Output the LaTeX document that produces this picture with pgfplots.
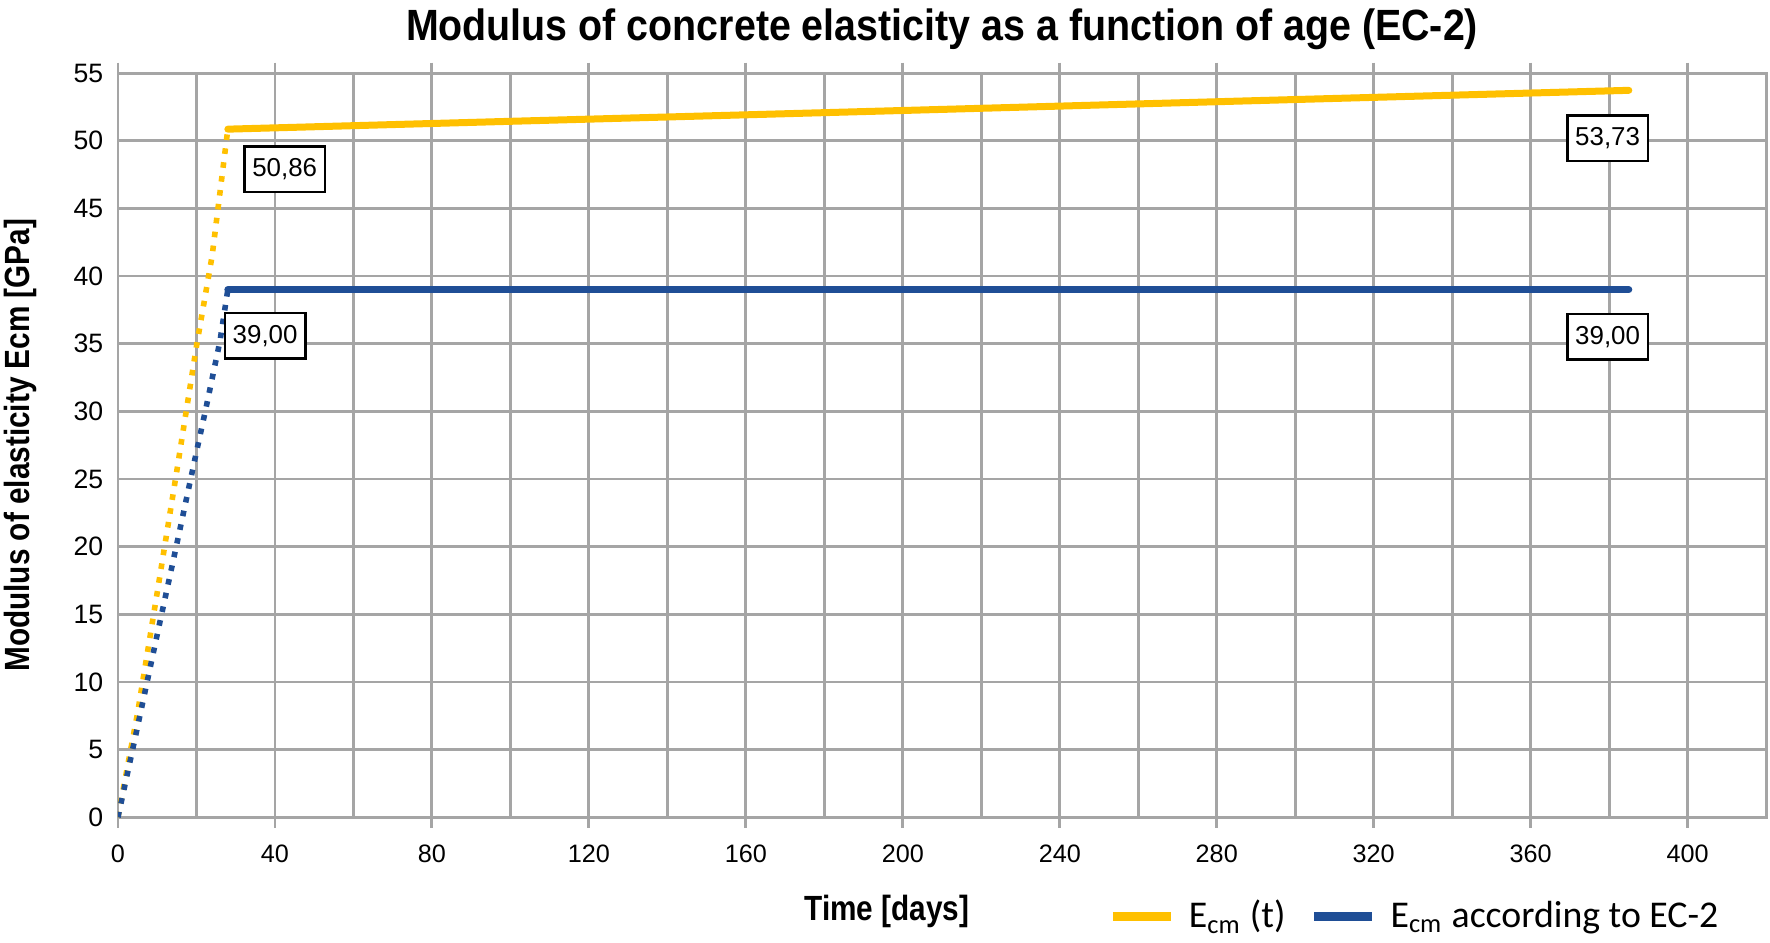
\documentclass[border=0pt]{standalone}
\usepackage{pgfplots}
\pgfplotsset{compat=1.18}
\usepackage{fontspec}
\setmainfont{Liberation Sans}
\newfontfamily\titlefont[FakeStretch=0.9]{Liberation Sans}
\newfontfamily\labelfont[FakeStretch=0.85]{Liberation Sans}
\newfontfamily\legfont{Carlito}
\definecolor{ecmyel}{RGB}{255,192,0}
\definecolor{ecmblue}{RGB}{31,78,150}
\definecolor{gridgray}{RGB}{165,165,165}
\begin{document}
\begin{tikzpicture}
  \useasboundingbox (-33.7pt,-35.7pt) rectangle (472.0pt,233.5pt);
  \begin{axis}[
      scale only axis,
      width=470.9pt, height=212.6pt,
      xmin=0, xmax=420, ymin=0, ymax=55,
      xtick={0,40,...,400},
      minor xtick={20,60,...,420},
      ytick={0,5,...,55},
      grid=both,
      major grid style={gridgray, line width=0.8pt},
      minor grid style={gridgray, line width=0.8pt},
      axis line style={gridgray, line width=0.8pt},
      tick align=outside,
      major tick length=3pt,
      minor tick length=0pt,
      xtick style={gridgray, line width=0.8pt},
      ytick style={draw=none},
      tick label style={/pgf/number format/assume math mode=true},
      xticklabel style={yshift=-1.4pt, font=\fontsize{7.2}{8}\selectfont},
      yticklabel style={xshift=2.3pt, font=\fontsize{7.6}{8}\selectfont},
      title={Modulus of concrete elasticity as a function of age (EC-2)},
      title style={at={(0.5,1)}, anchor=base, yshift=3.3pt,
        font=\titlefont\bfseries\fontsize{12.5}{14}\selectfont},
      xlabel={Time [days]},
      xlabel style={at={(axis description cs:0.4666,0)}, anchor=base, yshift=-29.4pt,
        font=\labelfont\bfseries\fontsize{10}{12}\selectfont},
      ylabel={Modulus of elasticity Ecm [GPa]},
      ylabel style={at={(axis description cs:-0.0590,0.5)}, anchor=center,
        font=\labelfont\bfseries\fontsize{10}{12}\selectfont},
      legend style={at={(axis description cs:0.6005,-0.1336)}, anchor=west,
        draw=none, fill=none, inner sep=0pt,
        legend columns=2,
        font=\legfont\fontsize{10.8}{12}\selectfont,
        /tikz/every odd column/.append style={column sep=2pt},
        /tikz/every even column/.append style={column sep=5pt}},
      legend cell align=left,
      legend image code/.code={\draw[#1, line width=2.5pt, line cap=butt] (0pt,0pt) -- (16.5pt,0pt);},
    ]
    % early age (t < 28 days), dotted
    \addplot[ecmyel, line width=1.6pt, line cap=butt, dash pattern=on 1.6pt off 2.4pt, forget plot]
      coordinates {(0,0) (5,7.7) (10,16.6) (15,25.6) (20,34.8) (24,41.5) (28,50.86)};
    \addplot[ecmblue, line width=1.6pt, line cap=butt, dash pattern=on 1.6pt off 2.4pt, forget plot]
      coordinates {(0,0) (5,6.7) (10,13.5) (15,20.2) (20,27.0) (22.4,30.2) (26,35.2) (28,39.0)};
    % from 28 days on
    \addplot[ecmyel, line width=2pt, line cap=round]
      coordinates {(28,50.86) (100,51.44) (200,52.24) (300,53.05) (385,53.73)};
    \addplot[ecmblue, line width=2pt, line cap=round]
      coordinates {(28,39.0) (385,39.0)};
    \legend{E\textsubscript{cm} (t), E\textsubscript{cm} according to EC-2}
    \tikzset{vlab/.style={draw=black, fill=white, line width=0.7pt,
        font=\fontsize{7.4}{8}\selectfont, minimum width=23pt, minimum height=13pt, inner sep=1.5pt}}
    \node[vlab] at (axis cs:42.5,47.9) {50,86};
    \node[vlab] at (axis cs:37.5,35.6) {39,00};
    \node[vlab] at (axis cs:379.6,50.2) {53,73};
    \node[vlab] at (axis cs:379.6,35.5) {39,00};
  \end{axis}
\end{tikzpicture}
\end{document}
